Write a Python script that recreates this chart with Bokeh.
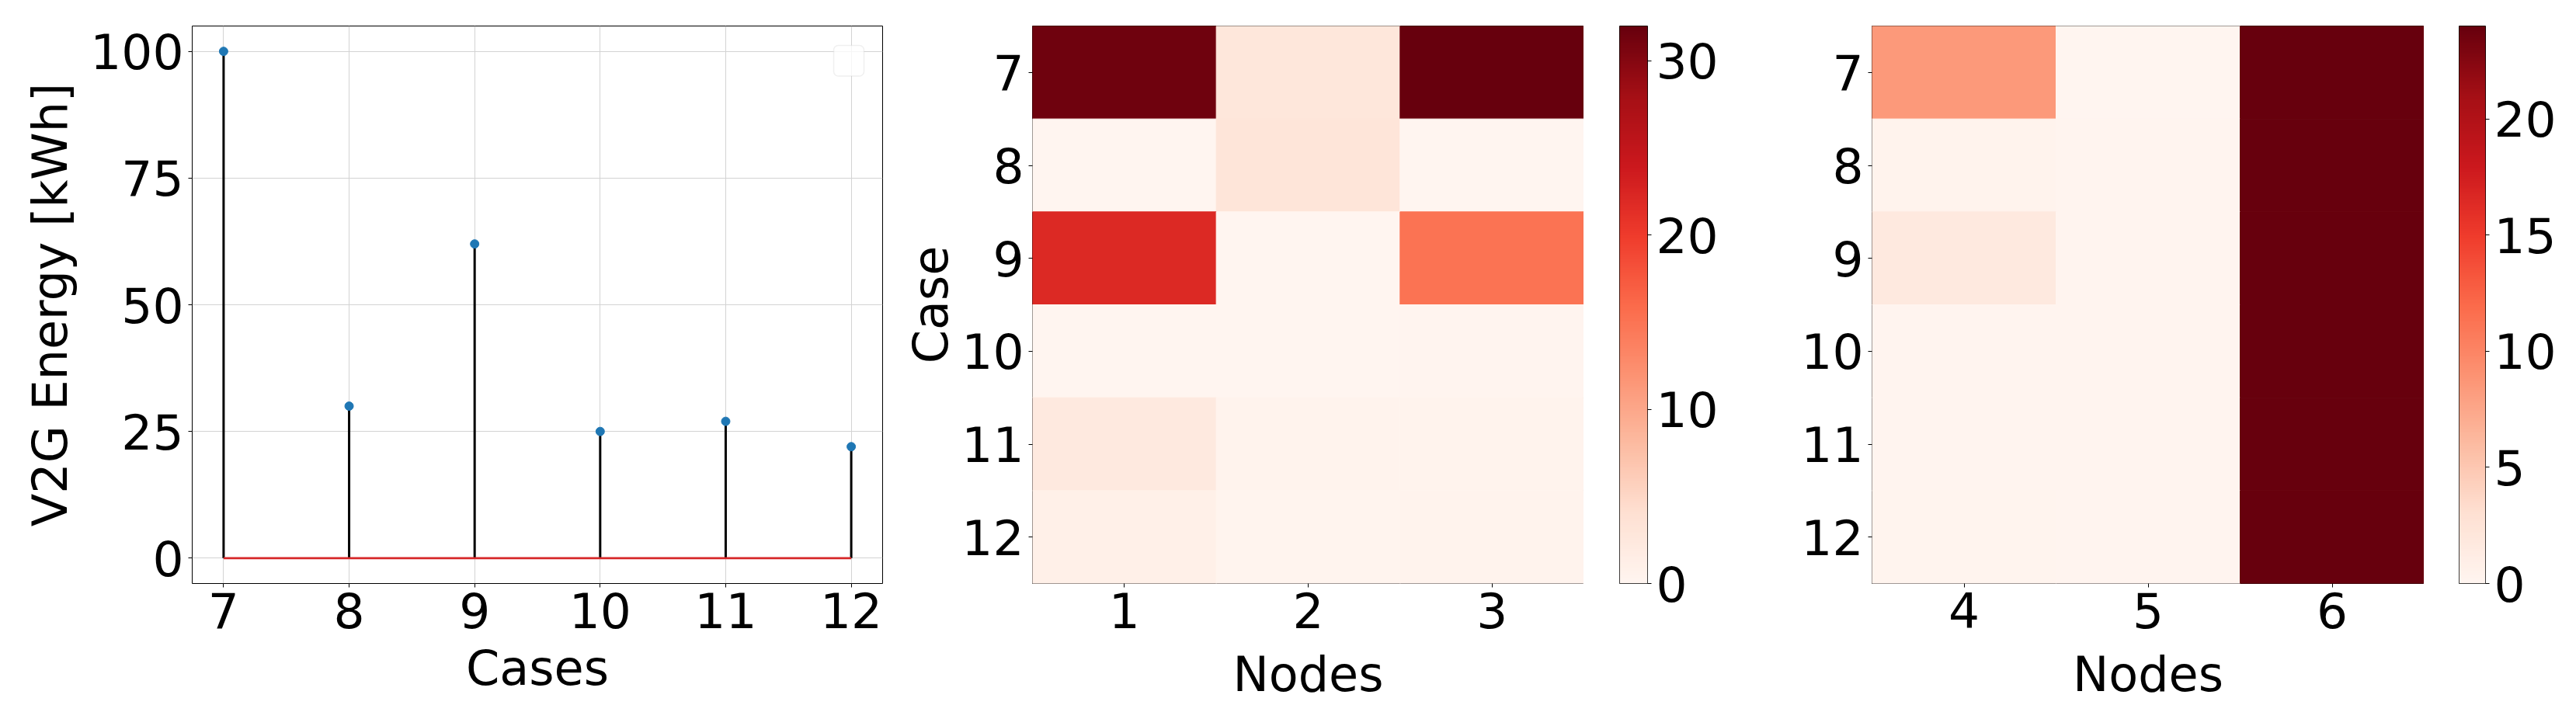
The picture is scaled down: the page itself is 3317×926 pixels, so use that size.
import numpy as np
from bokeh.plotting import figure
from bokeh.models import (Range1d, FixedTicker, LinearColorMapper,
                          BoxAnnotation, ColumnDataSource, Title)
from bokeh.transform import transform
from bokeh.layouts import row
from bokeh.embed import file_html
from bokeh.resources import INLINE

# ---------------- data ----------------
cases = [7, 8, 9, 10, 11, 12]
v2g_energy = [100, 30, 62, 25, 27, 22]

nodes_a = [1, 2, 3]
nodes_b = [4, 5, 6]
# rows = cases 7..12, columns = nodes
heat_a = [
    [31.4, 2.8, 32.0],
    [0.1, 3.0, 0.1],
    [22.0, 0.0, 15.0],
    [0.1, 0.1, 0.2],
    [2.3, 0.4, 0.4],
    [1.0, 0.3, 0.4],
]
heat_b = [
    [8.5, 0.0, 24.0],
    [0.3, 0.1, 24.0],
    [1.7, 0.1, 24.0],
    [0.1, 0.1, 24.0],
    [0.1, 0.1, 24.0],
    [0.2, 0.1, 24.0],
]
cbar_ticks_a = [0, 10, 20, 30]
cbar_ticks_b = [0, 5, 10, 15, 20]
energy_ticks = [0, 25, 50, 75, 100]

# ---------------- style ----------------
FONT = "DejaVu Sans"
TICK_FS = "63px"
LABEL_FS = "62px"
FRAME_H = 718
TOP = 33
BOTTOM = 160

reds9 = ['#fff5f0', '#fee0d2', '#fcbba1', '#fc9272', '#fb6a4a',
         '#ef3b2c', '#cb181d', '#a50f15', '#67000d']


def interp_palette(colors, n=256):
    rgb = np.array([[int(c[i:i + 2], 16) for i in (1, 3, 5)] for c in colors], float)
    xs = np.linspace(0, 1, len(colors))
    t = np.linspace(0, 1, n)
    out = []
    for v in t:
        r, g, b = (np.interp(v, xs, rgb[:, k]) for k in range(3))
        out.append("#%02x%02x%02x" % (int(round(r)), int(round(g)), int(round(b))))
    return out


REDS = interp_palette(reds9)


def style_axes(p):
    for ax in p.xaxis + p.yaxis:
        ax.major_label_text_font = FONT
        ax.major_label_text_font_size = TICK_FS
        ax.major_label_text_color = "black"
        ax.axis_label_text_font = FONT
        ax.axis_label_text_font_size = LABEL_FS
        ax.axis_label_text_font_style = "normal"
        ax.axis_label_text_color = "black"
        ax.axis_line_color = None
        ax.major_tick_line_color = "black"
        ax.major_tick_line_width = 1
        ax.major_tick_out = 5
        ax.major_tick_in = 0
        ax.minor_tick_line_color = None
        ax.major_label_standoff = 6
        ax.axis_label_standoff = 12
    p.outline_line_color = "black"
    p.outline_line_width = 1
    p.outline_line_alpha = 1
    p.background_fill_color = "white"
    p.border_fill_color = "white"


def make_fig(frame_w, left, right, x_range, y_range, **kw):
    return figure(frame_width=frame_w, frame_height=FRAME_H,
                  x_range=x_range, y_range=y_range,
                  output_backend="svg", toolbar_location=None,
                  min_border_left=left, min_border_right=right,
                  min_border_top=TOP, min_border_bottom=BOTTOM, **kw)


# ---------------- stem plot ----------------
X0, X1 = 6.75, 12.25
Y0, Y1 = -5, 105
W1_FRAME = 889
p1 = make_fig(W1_FRAME, 247, 8, Range1d(X0, X1), Range1d(Y0, Y1))
style_axes(p1)
p1.xaxis.ticker = FixedTicker(ticks=cases)
p1.yaxis.ticker = FixedTicker(ticks=energy_ticks)
p1.xaxis.axis_label = "Cases"
p1.yaxis.axis_label = "V2G Energy [kWh]"
p1.xgrid.ticker = FixedTicker(ticks=cases)
p1.ygrid.ticker = FixedTicker(ticks=energy_ticks)
for g in (p1.xgrid, p1.ygrid):
    g.grid_line_color = "#d3d3d3"
    g.grid_line_width = 1

src = ColumnDataSource(dict(x=cases, y=v2g_energy, base=[0] * len(cases)))
p1.segment(x0="x", y0="base", x1="x", y1="y", source=src,
           line_color="black", line_width=3)
p1.scatter(x="x", y="y", source=src, size=11, marker="circle",
           fill_color="#1f77b4", line_color="#1f77b4")
p1.line(x=[cases[0], cases[-1]], y=[0, 0], line_color="#d62728", line_width=2.7)

# empty legend frame (upper right)
px = (X1 - X0) / W1_FRAME
py = (Y1 - Y0) / FRAME_H
legend_box = BoxAnnotation(right=X1 - 24 * px, left=X1 - 63 * px,
                           top=Y1 - 25 * py, bottom=Y1 - 64.5 * py,
                           fill_color="white", fill_alpha=0.8,
                           line_color="#cccccc", line_width=1.5,
                           border_radius=6)
p1.add_layout(legend_box)


# ---------------- heatmaps ----------------
def heatmap(nodes, values, frame_w, left, ylabel):
    vals = np.array(values, float)
    xs, ys, vs = [], [], []
    for i, c in enumerate(cases):
        for j, n in enumerate(nodes):
            xs.append(n)
            ys.append(c)
            vs.append(vals[i, j])
    mapper = LinearColorMapper(palette=REDS, low=float(vals.min()), high=float(vals.max()))
    p = make_fig(frame_w, left, 0,
                 Range1d(nodes[0] - 0.5, nodes[-1] + 0.5),
                 Range1d(cases[-1] + 0.5, cases[0] - 0.5))
    style_axes(p)
    p.xgrid.grid_line_color = None
    p.ygrid.grid_line_color = None
    p.xaxis.ticker = FixedTicker(ticks=nodes)
    p.yaxis.ticker = FixedTicker(ticks=cases)
    if ylabel:
        p.yaxis.axis_label = ylabel
        p.yaxis.axis_label_standoff = 0
    s = ColumnDataSource(dict(x=xs, y=ys, v=vs))
    p.rect(x="x", y="y", width=1, height=1, source=s,
           fill_color=transform("v", mapper),
           line_color=transform("v", mapper), line_width=1)
    # x-axis title, set a little lower than the stem plot's
    p.add_layout(Title(text="Nodes", align="center", text_font=FONT,
                       text_font_size=LABEL_FS, text_font_style="normal",
                       text_color="black", standoff=37), "below")
    return p, mapper, float(vals.min()), float(vals.max())


def colorbar_fig(mapper, lo, hi, ticks, frame_w, left, right):
    c = make_fig(frame_w, left, right, Range1d(0, 1), Range1d(lo, hi),
                 y_axis_location="right")
    style_axes(c)
    c.xaxis.visible = False
    c.xgrid.grid_line_color = None
    c.ygrid.grid_line_color = None
    c.yaxis.ticker = FixedTicker(ticks=ticks)
    grad = np.linspace(lo, hi, 256).reshape(256, 1)
    c.image(image=[grad], x=0, y=lo, dw=1, dh=hi - lo, color_mapper=mapper)
    return c


p2, m2, lo2, hi2 = heatmap(nodes_a, heat_a, 710, 185, "Case")
c2 = colorbar_fig(m2, lo2, hi2, cbar_ticks_a, 36, 46, 159)
p3, m3, lo3, hi3 = heatmap(nodes_b, heat_b, 711, 130, None)
c3 = colorbar_fig(m3, lo3, hi3, cbar_ticks_b, 34, 45, 100)

layout = row(p1, p2, c2, p3, c3)
open("out.html", "w").write(file_html(layout, INLINE))
